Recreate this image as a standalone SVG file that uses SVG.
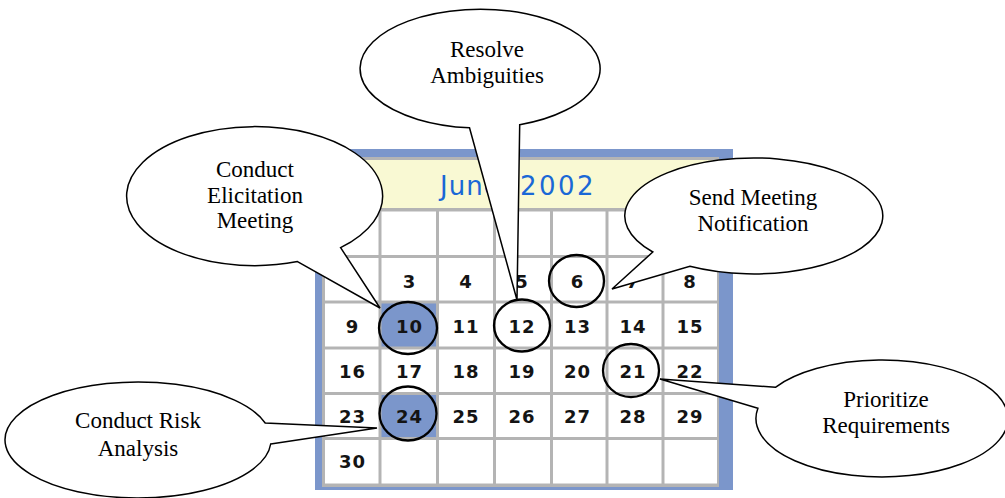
<svg xmlns="http://www.w3.org/2000/svg" width="1005" height="498" viewBox="0 0 1005 498">
<style>
.cell{fill:#ffffff}
.hl{fill:#7b96cb}
.num{font-family:"DejaVu Sans",Verdana,sans-serif;font-weight:bold;font-size:18px;fill:#141414;text-anchor:middle;letter-spacing:1px}
.ring{fill:none;stroke:#000;stroke-width:2.3}
.bubble{fill:#fff;stroke:#000;stroke-width:1.5;stroke-linejoin:miter}
.lbl{font-family:"Liberation Serif","Times New Roman",serif;font-size:23px;fill:#000;text-anchor:middle}
</style>
<rect width="1005" height="498" fill="#fff"/>
<g id="calendar">
<rect x="315" y="149" width="418" height="341" fill="#7b96cb"/>
<rect x="322" y="157" width="397" height="330" fill="#b4b4b4"/>
<rect x="324.5" y="160" width="392.5" height="48" fill="#f9f9d3"/>
<text x="440" y="195" font-family="DejaVu Sans,Verdana,sans-serif" font-size="26" fill="#1a68d6" letter-spacing="1">June <tspan dx="10" letter-spacing="2.5">2002</tspan></text>
<g id="cells">
<rect class="cell" x="325" y="211.5" width="53.5" height="43.5"/><rect class="cell" x="381.5" y="211.5" width="54.5" height="43.5"/><rect class="cell" x="439" y="211.5" width="54" height="43.5"/><rect class="cell" x="496" y="211.5" width="54" height="43.5"/><rect class="cell" x="553" y="211.5" width="52.5" height="43.5"/><rect class="cell" x="608.5" y="211.5" width="53" height="43.5"/><rect class="cell" x="664.5" y="211.5" width="52.5" height="43.5"/>
<rect class="cell" x="325" y="258" width="53.5" height="42.5"/><rect class="cell" x="381.5" y="258" width="54.5" height="42.5"/><rect class="cell" x="439" y="258" width="54" height="42.5"/><rect class="cell" x="496" y="258" width="54" height="42.5"/><rect class="cell" x="553" y="258" width="52.5" height="42.5"/><rect class="cell" x="608.5" y="258" width="53" height="42.5"/><rect class="cell" x="664.5" y="258" width="52.5" height="42.5"/>
<rect class="cell" x="325" y="303.5" width="53.5" height="43"/><rect class="hl" x="381.5" y="303.5" width="54.5" height="43"/><rect class="cell" x="439" y="303.5" width="54" height="43"/><rect class="cell" x="496" y="303.5" width="54" height="43"/><rect class="cell" x="553" y="303.5" width="52.5" height="43"/><rect class="cell" x="608.5" y="303.5" width="53" height="43"/><rect class="cell" x="664.5" y="303.5" width="52.5" height="43"/>
<rect class="cell" x="325" y="349.5" width="53.5" height="42.5"/><rect class="cell" x="381.5" y="349.5" width="54.5" height="42.5"/><rect class="cell" x="439" y="349.5" width="54" height="42.5"/><rect class="cell" x="496" y="349.5" width="54" height="42.5"/><rect class="cell" x="553" y="349.5" width="52.5" height="42.5"/><rect class="cell" x="608.5" y="349.5" width="53" height="42.5"/><rect class="cell" x="664.5" y="349.5" width="52.5" height="42.5"/>
<rect class="cell" x="325" y="395" width="53.5" height="42"/><rect class="hl" x="381.5" y="395" width="54.5" height="42"/><rect class="cell" x="439" y="395" width="54" height="42"/><rect class="cell" x="496" y="395" width="54" height="42"/><rect class="cell" x="553" y="395" width="52.5" height="42"/><rect class="cell" x="608.5" y="395" width="53" height="42"/><rect class="cell" x="664.5" y="395" width="52.5" height="42"/>
<rect class="cell" x="325" y="440" width="53.5" height="43.5"/><rect class="cell" x="381.5" y="440" width="54.5" height="43.5"/><rect class="cell" x="439" y="440" width="54" height="43.5"/><rect class="cell" x="496" y="440" width="54" height="43.5"/><rect class="cell" x="553" y="440" width="52.5" height="43.5"/><rect class="cell" x="608.5" y="440" width="53" height="43.5"/><rect class="cell" x="664.5" y="440" width="52.5" height="43.5"/>
</g>
<g id="days">
<text class="num" x="409.5" y="288">3</text><text class="num" x="466" y="288">4</text><text class="num" x="522" y="288">5</text><text class="num" x="577.5" y="288">6</text><text class="num" x="633" y="288">7</text><text class="num" x="690" y="288">8</text>
<text class="num" x="352.5" y="333">9</text><text class="num" x="409.5" y="333">10</text><text class="num" x="466" y="333">11</text><text class="num" x="522" y="333">12</text><text class="num" x="577.5" y="333">13</text><text class="num" x="633" y="333">14</text><text class="num" x="690" y="333">15</text>
<text class="num" x="352.5" y="378">16</text><text class="num" x="409.5" y="378">17</text><text class="num" x="466" y="378">18</text><text class="num" x="522" y="378">19</text><text class="num" x="577.5" y="378">20</text><text class="num" x="633" y="378">21</text><text class="num" x="690" y="378">22</text>
<text class="num" x="352.5" y="422.5">23</text><text class="num" x="409.5" y="422.5">24</text><text class="num" x="466" y="422.5">25</text><text class="num" x="522" y="422.5">26</text><text class="num" x="577.5" y="422.5">27</text><text class="num" x="633" y="422.5">28</text><text class="num" x="690" y="422.5">29</text>
<text class="num" x="352.5" y="467.5">30</text>
</g>
</g>
<g id="rings">
<ellipse class="ring" cx="576.5" cy="281" rx="27.5" ry="26"/>
<ellipse class="ring" cx="408" cy="328" rx="29" ry="26"/>
<ellipse class="ring" cx="522" cy="325.5" rx="28" ry="26"/>
<ellipse class="ring" cx="631" cy="370.5" rx="28" ry="26.5"/>
<ellipse class="ring" cx="408" cy="413.5" rx="28.5" ry="27"/>
</g>
<g id="connectors"></g>
<g id="callout-elicitation">
<path class="bubble" d="M297.5,261.6 L380,308 L340.6,247.6 A128,69.5 0 1 0 297.5,261.6 Z"/>
<text class="lbl" x="255" y="176.7">Conduct</text>
<text class="lbl" x="255" y="202.5">Elicitation</text>
<text class="lbl" x="255" y="228.3">Meeting</text>
</g>
<g id="callout-resolve">
<path class="bubble" d="M469.5,127.8 L517,300 L519.7,124.7 A120,59.4 0 1 0 469.5,127.8 Z"/>
<text class="lbl" x="487" y="56.7">Resolve</text>
<text class="lbl" x="487" y="82.7">Ambiguities</text>
</g>
<g id="callout-send">
<path class="bubble" d="M652.8,252 L612,289 L689.9,266.3 A129,58 0 1 0 652.8,252 Z"/>
<text class="lbl" x="753" y="205">Send Meeting</text>
<text class="lbl" x="753" y="231">Notification</text>
</g>
<g id="callout-prioritize">
<path class="bubble" d="M775.4,387.3 L660,379 L757.9,408.3 A126,58.5 0 1 0 775.4,387.3 Z"/>
<text class="lbl" x="886" y="406.7">Prioritize</text>
<text class="lbl" x="886" y="433">Requirements</text>
</g>
<g id="callout-risk">
<path class="bubble" d="M270.7,444 L377,428 L265.2,423 A133,58 0 1 0 270.7,444 Z"/>
<text class="lbl" x="138" y="428">Conduct Risk</text>
<text class="lbl" x="138" y="456">Analysis</text>
</g>
</svg>
